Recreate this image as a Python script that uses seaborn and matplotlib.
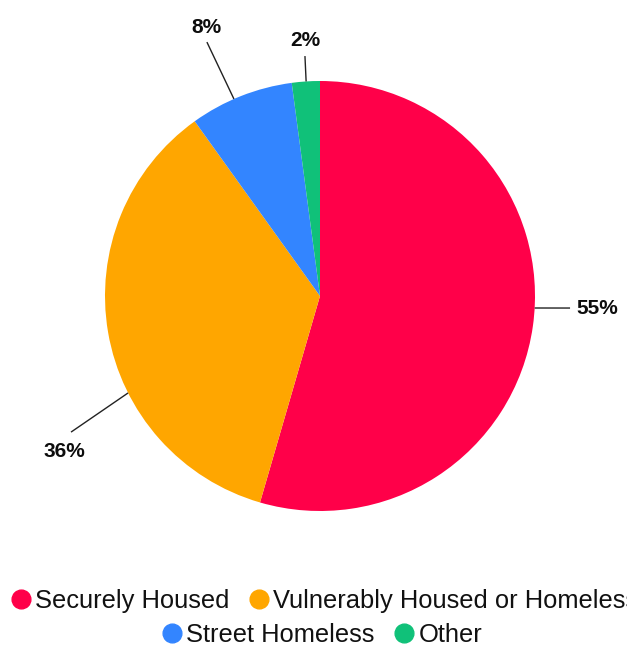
import matplotlib
matplotlib.use("Agg")
import matplotlib.pyplot as plt
import seaborn as sns
import numpy as np
from matplotlib.lines import Line2D

categories = ["Securely Housed", "Vulnerably Housed or Homeless", "Street Homeless", "Other"]
values = [54.5, 35.6, 7.8, 2.1]
value_labels = ["55%", "36%", "8%", "2%"]
colors = ["#ff0049", "#ffa600", "#3385ff", "#10c179"]

# label layout (style): connector start angle on rim (deg, clockwise from top), connector end, text anchor, ha
label_start_angle = [93.2, 243.2, 336.4, 356.3]
label_line_end = [(1.163, -0.056), (-1.158, -0.633), (-0.526, 1.181), (-0.070, 1.116)]
label_text_pos = [(1.193, -0.056), (-1.188, -0.721), (-0.526, 1.251), (-0.067, 1.188)]
label_ha = ["left", "center", "center", "center"]

sns.set_theme(style="white")
plt.rcParams["font.family"] = ["Liberation Sans", "DejaVu Sans"]

W, H = 627, 646
fig = plt.figure(figsize=(W / 100, H / 100), dpi=100)
ax = fig.add_axes([0, 0, 1, 1])
cx, cy, R = 320, 296, 215

ax.pie(values, colors=colors, startangle=90, counterclock=False, radius=1.0,
       wedgeprops=dict(linewidth=0), center=(0, 0), frame=False)
ax.set_xlim(-cx / R, (W - cx) / R)
ax.set_ylim((cy - H) / R, cy / R)
ax.set_aspect("auto")
ax.axis("off")

for lab, ang, le, tp, ha in zip(value_labels, label_start_angle, label_line_end, label_text_pos, label_ha):
    a = np.deg2rad(ang)
    sx, sy = np.sin(a), np.cos(a)
    ax.plot([sx, le[0]], [sy, le[1]], color="#222222", lw=1.0, solid_capstyle="butt")
    ax.text(tp[0], tp[1], lab, ha=ha, va="center", fontsize=15, fontweight="bold", color="#0d0d0d")

def handle(c):
    return Line2D([], [], marker="o", linestyle="none", markersize=13.5,
                  markerfacecolor=c, markeredgecolor=c)

FS = 18.4
common = dict(ncol=2, loc="center left", frameon=False, fontsize=FS, handlelength=0.78,
              handletextpad=0.17, columnspacing=0.76, borderaxespad=0, borderpad=0)
row1 = fig.legend([handle(colors[0]), handle(colors[1])], categories[:2],
                  bbox_to_anchor=(11 / W, 1 - 601 / H), **common)
row2 = fig.legend([handle(colors[2]), handle(colors[3])], categories[2:],
                  bbox_to_anchor=(162 / W, 1 - 635 / H), **common)
for lg in (row1, row2):
    for t in lg.get_texts():
        t.set_color("#111111")

fig.savefig("out.png", dpi=100)
